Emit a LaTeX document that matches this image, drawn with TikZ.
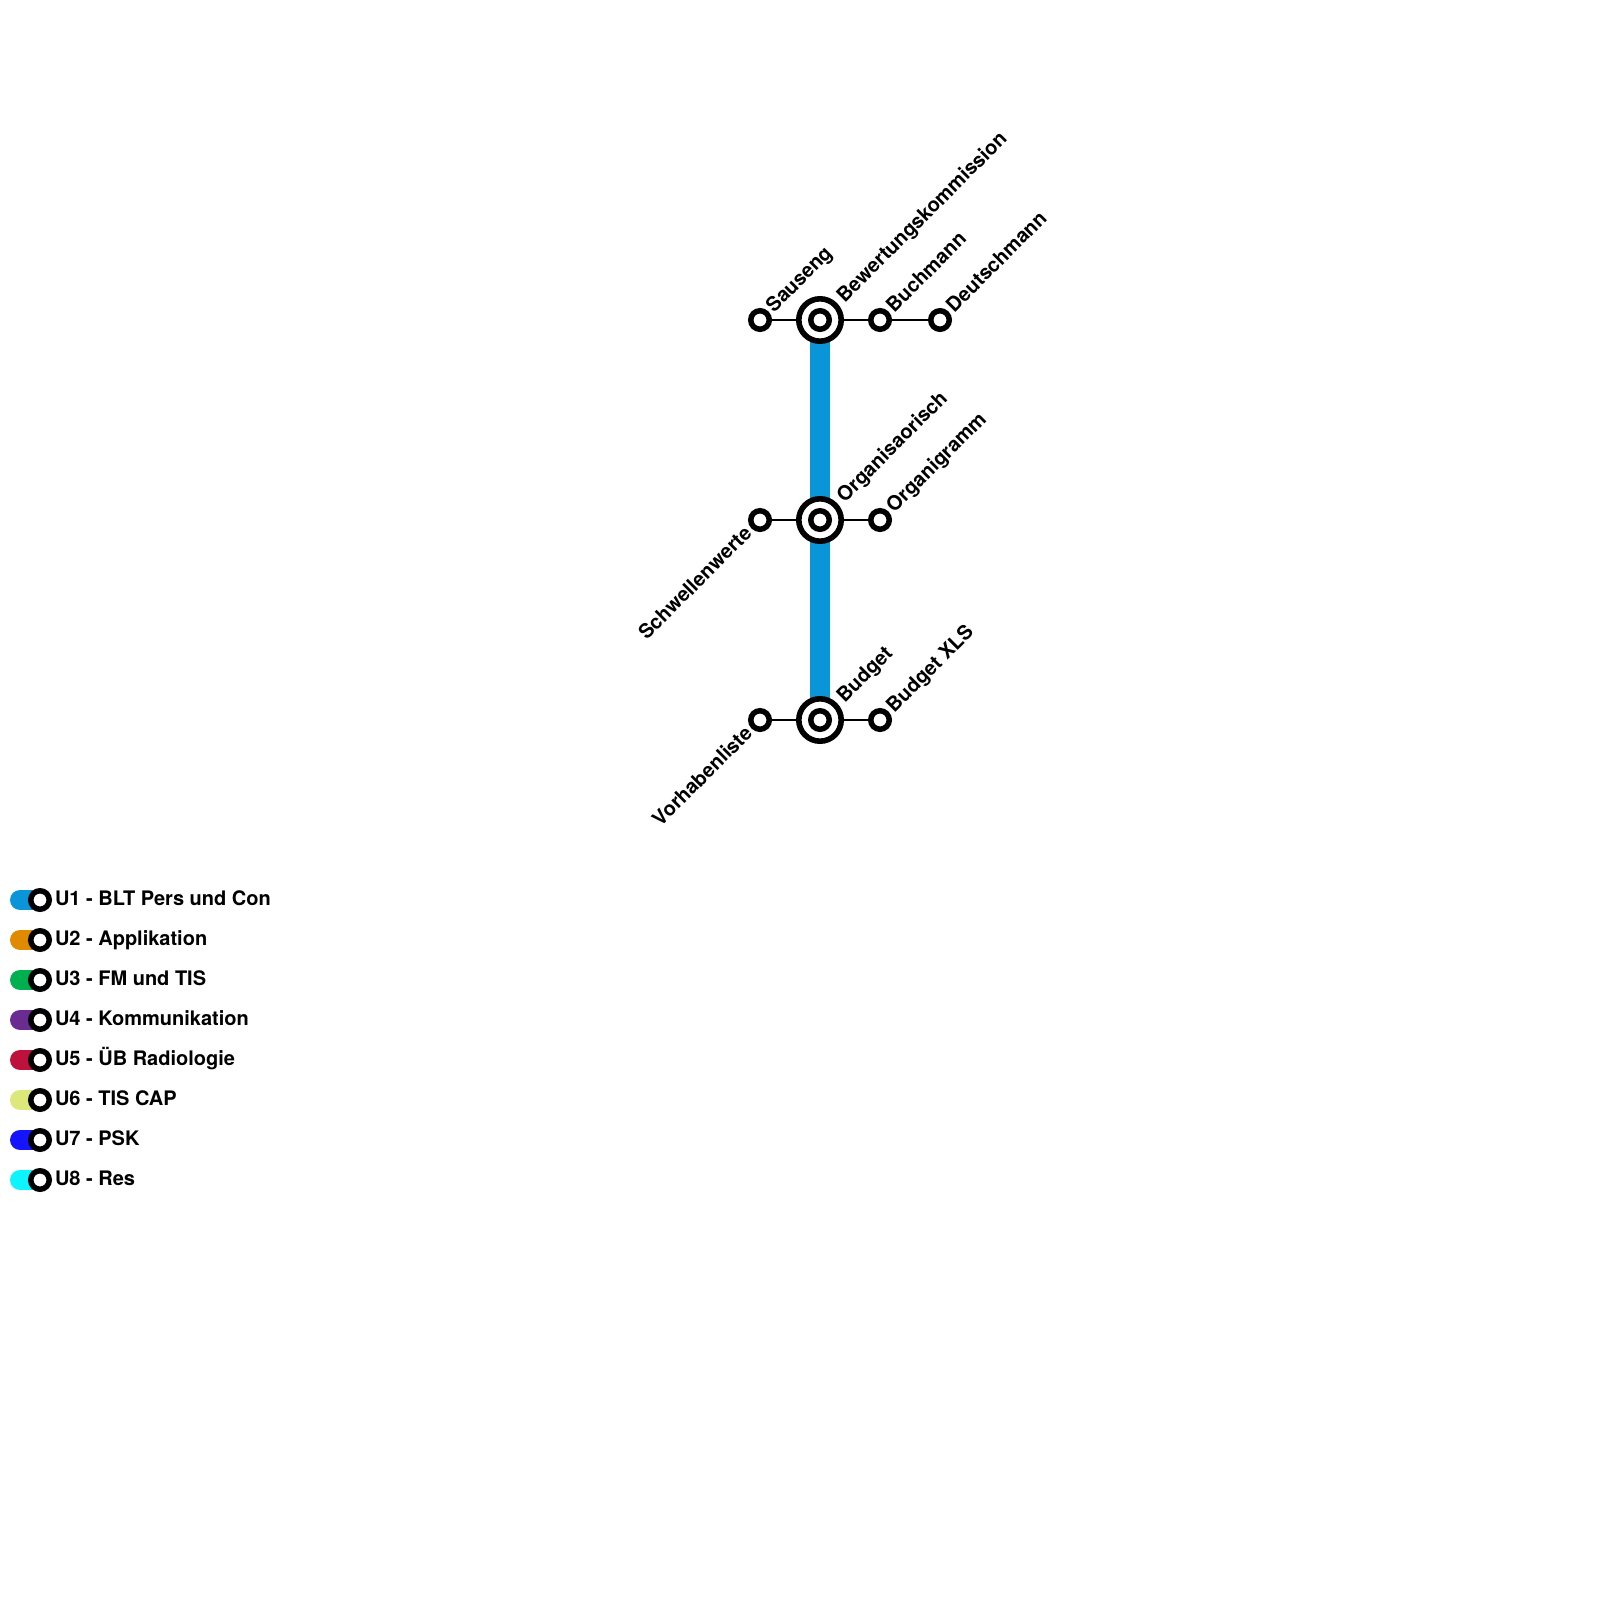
\documentclass[tikz,border=0pt]{standalone}
\usepackage{fontspec}
\setmainfont{TeX Gyre Heros}
\usetikzlibrary{backgrounds}
\tikzset{
  stopnode/.style={circle,draw=black,fill=white,line width=5.5pt,minimum size=18.5pt,inner sep=0pt},
  hubnode/.style={circle,draw=black,fill=white,line width=5.6pt,minimum size=42.4pt,inner sep=0pt},
  lnk/.style={draw=black,line width=2.8pt},
  trunk/.style={draw=ublue,line width=20pt},
  pill/.style={line width=20pt,line cap=round},
  lab/.style={font=\bfseries\fontsize{20}{24}\selectfont,inner sep=0pt,rotate=45},
  labr/.style={lab,anchor=base west},
  labl/.style={lab,anchor=base east},
  leg/.style={font=\bfseries\fontsize{20}{24}\selectfont,inner sep=0pt,anchor=base west}
}
\definecolor{ublue}{HTML}{0A95D9}
\definecolor{uorange}{HTML}{E08A00}
\definecolor{ugreen}{HTML}{00B050}
\definecolor{upurple}{HTML}{6A2C91}
\definecolor{ured}{HTML}{BE123C}
\definecolor{ulime}{HTML}{DDE87A}
\definecolor{uindigo}{HTML}{1414FF}
\definecolor{ucyan}{HTML}{0CF5FF}
\begin{document}
\begin{tikzpicture}[x=1pt,y=-1pt]
\useasboundingbox (0,0) rectangle (1600,1600);
% hubs
\node[hubnode] (h1) at (820,320) {};
\node[stopnode] (h1i) at (820,320) {};
\node[hubnode] (h2) at (820,520) {};
\node[stopnode] (h2i) at (820,520) {};
\node[hubnode] (h3) at (820,720) {};
\node[stopnode] (h3i) at (820,720) {};
% stops
\node[stopnode] (sa) at (760,320) {};
\node[stopnode] (bu) at (880,320) {};
\node[stopnode] (de) at (940,320) {};
\node[stopnode] (sc) at (760,520) {};
\node[stopnode] (og) at (880,520) {};
\node[stopnode] (vo) at (760,720) {};
\node[stopnode] (bx) at (880,720) {};
% connectors
\begin{pgfonlayer}{background}
\draw[trunk] (h1.center) -- (h2.center);
\draw[trunk] (h2.center) -- (h3.center);
\end{pgfonlayer}
\draw[lnk] (sa) -- (h1);
\draw[lnk] (h1) -- (bu);
\draw[lnk] (bu) -- (de);
\draw[lnk] (sc) -- (h2);
\draw[lnk] (h2) -- (og);
\draw[lnk] (vo) -- (h3);
\draw[lnk] (h3) -- (bx);
% labels
\node[labr] (tsa) at (774,313.5) {Sauseng};
\node[labr] (th1) at (844.6,303.5) {Bewertungskommission};
\node[labr] (tbu) at (894.3,313.5) {Buchmann};
\node[labr] (tde) at (954.3,313.5) {Deutschmann};
\node[labr] (th2) at (844.6,503.5) {Organisaorisch};
\node[labr] (tog) at (894.3,513.5) {Organigramm};
\node[labr] (th3) at (844.6,703.5) {Budget};
\node[labr] (tbx) at (894.3,713.5) {Budget XLS};
\node[labl] (tsc) at (753,534.5) {Schwellenwerte};
\node[labl] (tvo) at (753.5,734.5) {Vorhabenliste};
% legend
\foreach \i/\c/\t in {1/ublue/{U1 - BLT Pers und Con},2/uorange/{U2 - Applikation},3/ugreen/{U3 - FM und TIS},4/upurple/{U4 - Kommunikation},5/ured/{U5 - ÜB Radiologie},6/ulime/{U6 - TIS CAP},7/uindigo/{U7 - PSK},8/ucyan/{U8 - Res}}{
  \pgfmathsetmacro{\yy}{860+40*\i}
  \node[stopnode] (m\i) at (40,\yy) {};
  \coordinate (p\i) at (20,\yy);
  \begin{pgfonlayer}{background}
    \draw[pill,draw=\c] (p\i) -- (m\i.center);
  \end{pgfonlayer}
  \node[leg] (t\i) at (54.8,\yy+5) {\t};
}
\end{tikzpicture}
\end{document}
